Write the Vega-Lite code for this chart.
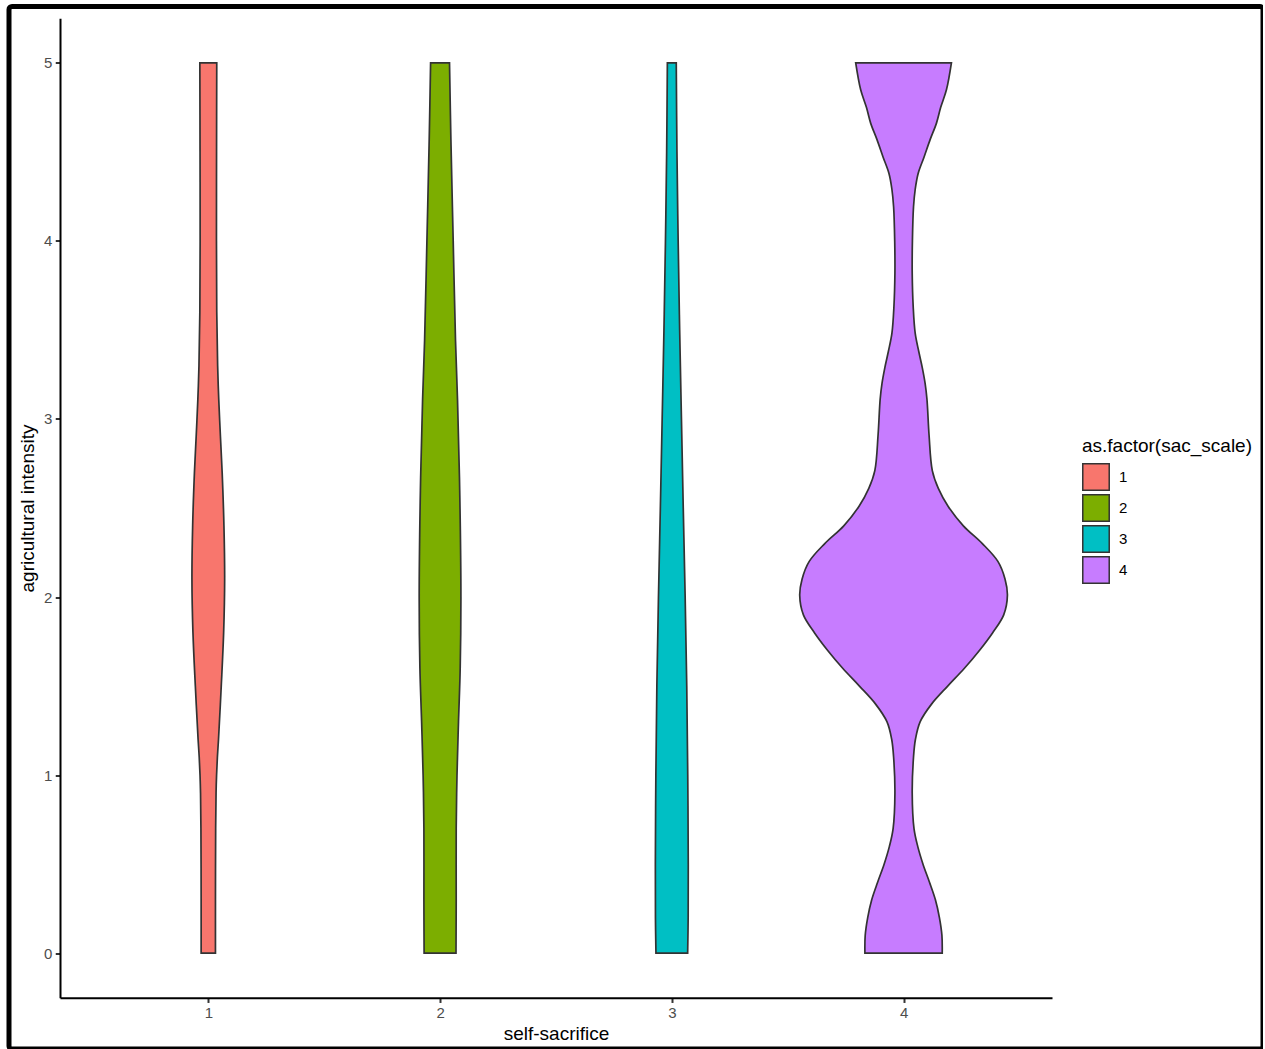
{
  "$schema": "https://vega.github.io/schema/vega-lite/v6.json",
  "width": 1254,
  "height": 1042.5,
  "autosize": {"type": "none"},
  "padding": {"left": 9, "top": 6.5, "right": 0, "bottom": 0},
  "background": "white",
  "config": {
    "font": "Liberation Sans",
    "view": {"stroke": "black", "strokeWidth": 5, "fill": "white", "cornerRadius": 3},
    "axis": {"grid": false}
  },
  "data": {
    "values": [
      {"sac_scale": 1, "intensity": 0.0, "lo": 0.9691, "hi": 1.0309},
      {"sac_scale": 1, "intensity": 0.3, "lo": 0.9691, "hi": 1.0309},
      {"sac_scale": 1, "intensity": 0.7, "lo": 0.9682, "hi": 1.0318},
      {"sac_scale": 1, "intensity": 0.9, "lo": 0.9665, "hi": 1.0335},
      {"sac_scale": 1, "intensity": 1.0, "lo": 0.9643, "hi": 1.0357},
      {"sac_scale": 1, "intensity": 1.1, "lo": 0.9608, "hi": 1.0392},
      {"sac_scale": 1, "intensity": 1.2, "lo": 0.9560, "hi": 1.0440},
      {"sac_scale": 1, "intensity": 1.5, "lo": 0.9441, "hi": 1.0559},
      {"sac_scale": 1, "intensity": 1.8, "lo": 0.9338, "hi": 1.0662},
      {"sac_scale": 1, "intensity": 2.1, "lo": 0.9294, "hi": 1.0706},
      {"sac_scale": 1, "intensity": 2.4, "lo": 0.9325, "hi": 1.0675},
      {"sac_scale": 1, "intensity": 2.7, "lo": 0.9402, "hi": 1.0598},
      {"sac_scale": 1, "intensity": 2.9, "lo": 0.9476, "hi": 1.0524},
      {"sac_scale": 1, "intensity": 3.11, "lo": 0.9549, "hi": 1.0451},
      {"sac_scale": 1, "intensity": 3.3, "lo": 0.9597, "hi": 1.0403},
      {"sac_scale": 1, "intensity": 3.6, "lo": 0.9635, "hi": 1.0365},
      {"sac_scale": 1, "intensity": 4.0, "lo": 0.9648, "hi": 1.0352},
      {"sac_scale": 1, "intensity": 4.5, "lo": 0.9644, "hi": 1.0356},
      {"sac_scale": 1, "intensity": 5.0, "lo": 0.9635, "hi": 1.0365},

      {"sac_scale": 2, "intensity": 0.0, "lo": 1.9312, "hi": 2.0688},
      {"sac_scale": 2, "intensity": 0.3, "lo": 1.9303, "hi": 2.0697},
      {"sac_scale": 2, "intensity": 0.7, "lo": 1.9303, "hi": 2.0697},
      {"sac_scale": 2, "intensity": 1.0, "lo": 1.9269, "hi": 2.0731},
      {"sac_scale": 2, "intensity": 1.3, "lo": 1.9204, "hi": 2.0796},
      {"sac_scale": 2, "intensity": 1.6, "lo": 1.9131, "hi": 2.0869},
      {"sac_scale": 2, "intensity": 2.0, "lo": 1.9100, "hi": 2.0900},
      {"sac_scale": 2, "intensity": 2.6, "lo": 1.9152, "hi": 2.0848},
      {"sac_scale": 2, "intensity": 3.11, "lo": 1.9247, "hi": 2.0753},
      {"sac_scale": 2, "intensity": 3.44, "lo": 1.9333, "hi": 2.0667},
      {"sac_scale": 2, "intensity": 4.0, "lo": 1.9433, "hi": 2.0567},
      {"sac_scale": 2, "intensity": 4.57, "lo": 1.9532, "hi": 2.0468},
      {"sac_scale": 2, "intensity": 5.0, "lo": 1.9592, "hi": 2.0408},

      {"sac_scale": 3, "intensity": 0.0, "lo": 2.9316, "hi": 3.0684},
      {"sac_scale": 3, "intensity": 0.2, "lo": 2.9294, "hi": 3.0706},
      {"sac_scale": 3, "intensity": 0.5, "lo": 2.9290, "hi": 3.0710},
      {"sac_scale": 3, "intensity": 1.0, "lo": 2.9312, "hi": 3.0688},
      {"sac_scale": 3, "intensity": 1.5, "lo": 2.9355, "hi": 3.0645},
      {"sac_scale": 3, "intensity": 2.0, "lo": 2.9424, "hi": 3.0576},
      {"sac_scale": 3, "intensity": 2.5, "lo": 2.9506, "hi": 3.0494},
      {"sac_scale": 3, "intensity": 3.0, "lo": 2.9584, "hi": 3.0416},
      {"sac_scale": 3, "intensity": 3.5, "lo": 2.9661, "hi": 3.0339},
      {"sac_scale": 3, "intensity": 4.0, "lo": 2.9726, "hi": 3.0274},
      {"sac_scale": 3, "intensity": 4.5, "lo": 2.9778, "hi": 3.0222},
      {"sac_scale": 3, "intensity": 5.0, "lo": 2.9808, "hi": 3.0192},

      {"sac_scale": 4, "intensity": 0.0, "lo": 3.8332, "hi": 4.1668},
      {"sac_scale": 4, "intensity": 0.1, "lo": 3.8345, "hi": 4.1655},
      {"sac_scale": 4, "intensity": 0.2, "lo": 3.8453, "hi": 4.1547},
      {"sac_scale": 4, "intensity": 0.3, "lo": 3.8626, "hi": 4.1374},
      {"sac_scale": 4, "intensity": 0.4, "lo": 3.8885, "hi": 4.1115},
      {"sac_scale": 4, "intensity": 0.5, "lo": 3.9161, "hi": 4.0839},
      {"sac_scale": 4, "intensity": 0.6, "lo": 3.9389, "hi": 4.0611},
      {"sac_scale": 4, "intensity": 0.7, "lo": 3.9549, "hi": 4.0451},
      {"sac_scale": 4, "intensity": 0.9, "lo": 3.9627, "hi": 4.0373},
      {"sac_scale": 4, "intensity": 1.1, "lo": 3.9571, "hi": 4.0429},
      {"sac_scale": 4, "intensity": 1.2, "lo": 3.9489, "hi": 4.0511},
      {"sac_scale": 4, "intensity": 1.3, "lo": 3.9282, "hi": 4.0718},
      {"sac_scale": 4, "intensity": 1.4, "lo": 3.8785, "hi": 4.1215},
      {"sac_scale": 4, "intensity": 1.5, "lo": 3.8095, "hi": 4.1905},
      {"sac_scale": 4, "intensity": 1.6, "lo": 3.7374, "hi": 4.2626},
      {"sac_scale": 4, "intensity": 1.7, "lo": 3.6727, "hi": 4.3273},
      {"sac_scale": 4, "intensity": 1.8, "lo": 3.6153, "hi": 4.3847},
      {"sac_scale": 4, "intensity": 1.9, "lo": 3.5678, "hi": 4.4322},
      {"sac_scale": 4, "intensity": 2.01, "lo": 3.5519, "hi": 4.4481},
      {"sac_scale": 4, "intensity": 2.1, "lo": 3.5620, "hi": 4.4380},
      {"sac_scale": 4, "intensity": 2.2, "lo": 3.5930, "hi": 4.4070},
      {"sac_scale": 4, "intensity": 2.3, "lo": 3.6600, "hi": 4.3400},
      {"sac_scale": 4, "intensity": 2.4, "lo": 3.7420, "hi": 4.2580},
      {"sac_scale": 4, "intensity": 2.51, "lo": 3.8080, "hi": 4.1920},
      {"sac_scale": 4, "intensity": 2.61, "lo": 3.8500, "hi": 4.1500},
      {"sac_scale": 4, "intensity": 2.71, "lo": 3.8760, "hi": 4.1240},
      {"sac_scale": 4, "intensity": 2.91, "lo": 3.8900, "hi": 4.1100},
      {"sac_scale": 4, "intensity": 3.11, "lo": 3.8990, "hi": 4.1010},
      {"sac_scale": 4, "intensity": 3.2, "lo": 3.9070, "hi": 4.0930},
      {"sac_scale": 4, "intensity": 3.29, "lo": 3.9195, "hi": 4.0805},
      {"sac_scale": 4, "intensity": 3.38, "lo": 3.9346, "hi": 4.0654},
      {"sac_scale": 4, "intensity": 3.48, "lo": 3.9497, "hi": 4.0503},
      {"sac_scale": 4, "intensity": 3.63, "lo": 3.9584, "hi": 4.0416},
      {"sac_scale": 4, "intensity": 3.82, "lo": 3.9627, "hi": 4.0373},
      {"sac_scale": 4, "intensity": 4.0, "lo": 3.9618, "hi": 4.0382},
      {"sac_scale": 4, "intensity": 4.19, "lo": 3.9571, "hi": 4.0429},
      {"sac_scale": 4, "intensity": 4.29, "lo": 3.9497, "hi": 4.0503},
      {"sac_scale": 4, "intensity": 4.38, "lo": 3.9368, "hi": 4.0632},
      {"sac_scale": 4, "intensity": 4.47, "lo": 3.9118, "hi": 4.0882},
      {"sac_scale": 4, "intensity": 4.57, "lo": 3.8850, "hi": 4.1150},
      {"sac_scale": 4, "intensity": 4.66, "lo": 3.8583, "hi": 4.1417},
      {"sac_scale": 4, "intensity": 4.75, "lo": 3.8397, "hi": 4.1603},
      {"sac_scale": 4, "intensity": 4.85, "lo": 3.8147, "hi": 4.1853},
      {"sac_scale": 4, "intensity": 5.0, "lo": 3.7935, "hi": 4.2065}
    ]
  },
  "mark": {
    "type": "area",
    "orient": "horizontal",
    "interpolate": "catmull-rom",
    "stroke": "#333333",
    "strokeWidth": 1.7,
    "opacity": 1
  },
  "encoding": {
    "y": {
      "field": "intensity",
      "type": "quantitative",
      "scale": {"domain": [-0.25, 5.25], "range": [991.2, 11.8], "nice": false, "zero": false},
      "axis": {
        "orient": "left",
        "offset": -51,
        "values": [0, 1, 2, 3, 4, 5],
        "domainColor": "black",
        "domainWidth": 2,
        "tickColor": "#333333",
        "tickWidth": 2,
        "tickSize": 4.75,
        "labelFontSize": 15,
        "labelColor": "#4D4D4D",
        "labelPadding": 3.5,
        "title": "agricultural intensity",
        "titleFontSize": 19,
        "titleFontWeight": "normal",
        "titleColor": "black",
        "titlePadding": 6
      }
    },
    "x": {
      "field": "lo",
      "type": "quantitative",
      "scale": {"domain": [0.3601, 4.6405], "range": [51, 1043], "nice": false, "zero": false},
      "axis": {
        "orient": "bottom",
        "offset": -51.3,
        "values": [1, 2, 3, 4],
        "domainColor": "black",
        "domainWidth": 2,
        "tickColor": "#333333",
        "tickWidth": 2,
        "tickSize": 4.75,
        "labelFontSize": 15,
        "labelColor": "#4D4D4D",
        "labelPadding": 3,
        "title": "self-sacrifice",
        "titleFontSize": 19,
        "titleFontWeight": "normal",
        "titleColor": "black",
        "titlePadding": 4
      }
    },
    "x2": {"field": "hi"},
    "color": {
      "field": "sac_scale",
      "type": "nominal",
      "scale": {"domain": [1, 2, 3, 4], "range": ["#F8766D", "#7CAE00", "#00BFC4", "#C77CFF"]},
      "legend": {
        "title": "as.factor(sac_scale)",
        "orient": "none",
        "legendX": 1073,
        "legendY": 430.5,
        "padding": 0,
        "titleFontSize": 19,
        "titleFontWeight": "normal",
        "titleColor": "black",
        "titlePadding": 7,
        "symbolType": "square",
        "symbolSize": 700,
        "symbolStrokeColor": "#333333",
        "symbolStrokeWidth": 1.5,
        "symbolOpacity": 1,
        "rowPadding": -16,
        "labelFontSize": 15,
        "labelColor": "black",
        "labelOffset": 9
      }
    }
  }
}
